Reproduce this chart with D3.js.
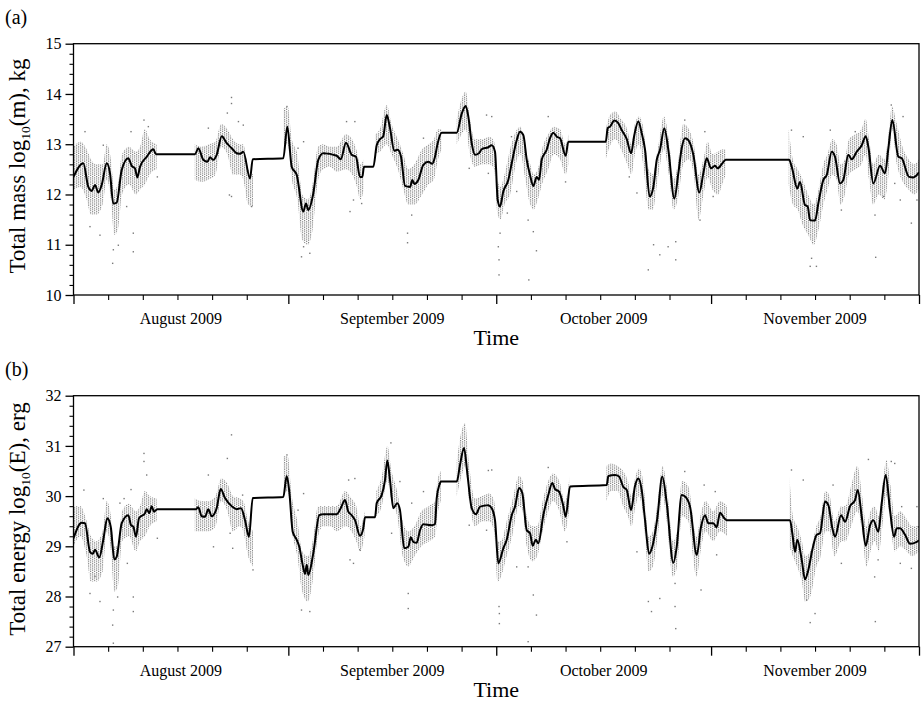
<!DOCTYPE html>
<html>
<head>
<meta charset="utf-8">
<script src="https://cdn.jsdelivr.net/npm/d3@7"></script>
<style>
  body { margin: 0; background: #fff; }
  text { font-family: "Liberation Serif", "Times New Roman", serif; fill: #000; }
</style>
</head>
<body>
<svg id="chart" width="923" height="702"></svg>
<script>
// Time range: 1 Aug 2009 – 1 Dec 2009; series are keyed by day offset from 1 Aug.
const startMs = Date.UTC(2009, 7, 1);
const endMs = Date.UTC(2009, 11, 1);
const monthLabels = ["August 2009", "September 2009", "October 2009", "November 2009"];
const massTicks = [10, 11, 12, 13, 14, 15];
const energyTicks = [27, 28, 29, 30, 31, 32];

// Running mean of log10 mass (day, value)
const massTrend = [[0.0,12.35],[1.41,12.62],[2.14,12.15],[2.63,12.07],[3.10,12.19],[3.58,12.04],[4.07,12.19],[4.79,12.62],[5.27,12.42],[5.74,11.82],[6.23,11.84],[6.96,12.49],[7.91,12.72],[8.40,12.57],[8.87,12.52],[9.21,12.34],[9.60,12.55],[10.56,12.75],[11.52,12.90],[11.90,12.80],[17.53,12.80],[18.01,12.92],[18.73,12.69],[19.31,12.65],[19.70,12.74],[20.17,12.69],[20.66,12.79],[21.39,13.16],[22.11,13.02],[22.83,12.92],[23.55,12.82],[24.03,12.81],[24.50,12.85],[25.47,12.32],[25.86,12.70],[30.27,12.72],[30.85,13.35],[31.49,12.55],[32.21,12.39],[33.16,11.66],[33.55,11.82],[33.88,11.69],[34.60,12.02],[35.32,12.69],[36.05,12.82],[37.98,12.77],[38.56,12.70],[39.32,13.03],[40.14,12.79],[40.76,12.75],[41.34,12.35],[41.67,12.35],[41.92,12.55],[43.26,12.55],[43.75,12.98],[44.23,13.10],[44.70,13.16],[45.19,13.58],[45.67,13.32],[46.29,12.87],[46.78,12.89],[47.26,12.75],[47.84,12.17],[48.56,12.15],[48.89,12.29],[49.18,12.21],[49.75,12.29],[50.48,12.59],[51.20,12.65],[51.77,12.61],[52.16,12.75],[52.55,13.02],[53.13,13.23],[55.30,13.23],[56.02,13.61],[56.59,13.76],[56.97,13.55],[57.46,13.02],[57.94,12.79],[58.51,12.82],[58.90,12.90],[59.86,12.94],[60.35,12.98],[60.82,12.85],[61.21,11.89],[61.54,11.76],[62.02,12.06],[62.74,12.29],[63.23,12.62],[63.95,13.08],[64.43,13.25],[64.91,13.18],[65.40,12.69],[65.87,12.39],[66.35,12.17],[66.84,12.35],[67.17,12.29],[67.56,12.69],[68.28,12.89],[68.76,13.12],[69.24,13.23],[69.73,13.15],[70.20,13.12],[71.02,12.77],[71.40,13.05],[76.80,13.05],[77.09,13.32],[77.42,13.35],[78.04,13.47],[78.61,13.42],[79.11,13.28],[79.83,13.10],[80.45,12.82],[80.92,13.18],[81.50,13.45],[81.99,13.22],[82.47,12.89],[83.13,11.96],[83.67,12.15],[84.16,12.69],[84.63,12.89],[85.25,13.32],[85.83,12.89],[86.70,11.92],[87.27,12.42],[87.76,12.92],[88.24,13.12],[88.72,13.08],[89.44,12.79],[90.30,12.04],[90.88,12.42],[91.37,12.72],[91.99,12.52],[92.57,12.57],[92.96,12.52],[93.62,12.62],[94.11,12.69],[103.25,12.69],[103.64,12.55],[104.44,12.12],[104.83,12.25],[105.55,11.79],[105.94,11.76],[106.28,11.49],[107.00,11.48],[107.47,11.82],[108.20,12.29],[108.69,12.39],[109.41,12.85],[109.88,12.75],[110.61,12.22],[111.08,12.29],[111.80,12.79],[112.29,12.70],[113.01,12.85],[113.74,12.98],[114.31,13.16],[114.69,12.95],[115.41,12.22],[116.38,12.57],[117.10,12.42],[117.58,12.92],[118.15,13.48],[119.02,12.75],[119.51,12.72],[120.56,12.35],[121.18,12.34],[122.0,12.44]];

// Spread of the individual mass estimates (day, low, high); null separates observing runs
const massSpread = [[0.0,12.10,12.95],[1.0,12.15,13.05],[1.9,11.9,12.9],[2.5,11.6,12.7],[3.3,11.6,12.6],[4.2,11.8,12.6],[4.8,12.3,13.0],[5.4,11.9,12.7],[5.9,11.2,12.1],[6.4,11.3,12.2],[7.0,12.0,12.8],[8.0,12.2,12.95],[9.0,12.0,12.85],[9.6,12.1,12.95],[10.3,12.2,13.3],[11.0,12.4,13.1],[12.0,12.5,13.0],
  null,
  [17.5,12.3,13.0],[18.5,12.25,12.95],[19.5,12.3,13.0],[20.5,12.4,13.05],[21.3,12.95,13.4],[22.2,12.8,13.3],[23.0,12.4,13.1],[24.0,12.4,13.0],[24.5,12.3,13.0],[25.2,11.8,12.5],[25.9,11.75,12.4],
  null,
  [30.3,13.0,13.7],[30.9,13.0,13.75],[31.5,12.3,13.1],[32.3,11.9,12.8],[33.0,11.1,12.0],[33.8,11.0,11.9],[34.5,11.3,12.2],[35.3,12.3,12.95],[36.0,12.5,13.0],[37.0,12.55,12.95],[38.0,12.45,12.95],[39.3,12.5,13.2],[40.2,12.4,13.1],[40.8,12.2,12.9],[41.4,11.9,12.6],[41.9,12.1,12.7],
  null,
  [43.5,12.8,13.2],[44.2,12.85,13.3],[45.2,13.0,13.78],[45.9,12.8,13.4],[46.8,12.5,13.1],[47.6,12.1,12.8],[48.3,11.8,12.5],[49.2,11.8,12.6],[50.3,12.0,12.9],[51.2,12.2,13.0],[52.0,12.3,13.1],[52.6,12.7,13.3],[53.1,12.9,13.3],
  null,
  [55.3,13.0,13.5],[56.0,13.2,13.9],[56.6,13.3,14.05],[57.2,12.8,13.5],[57.9,12.55,13.1],[59.0,12.6,13.1],[60.0,12.6,13.15],[60.7,12.5,13.05],[61.2,11.6,12.3],[61.6,11.5,12.15],[62.2,11.8,12.4],[63.0,12.0,12.9],[64.0,12.7,13.3],[64.5,12.8,13.35],[65.2,12.3,12.9],[65.9,11.8,12.6],[66.4,11.7,12.4],[67.0,11.9,12.5],[67.6,12.2,12.9],[68.5,12.5,13.2],[69.3,12.8,13.35],[70.2,12.7,13.3],[71.0,12.4,13.0],[71.4,12.6,13.2],
  null,
  [76.8,12.7,13.3],[77.5,13.0,13.6],[78.2,13.1,13.65],[79.0,12.9,13.5],[79.9,12.6,13.3],[80.5,12.4,13.0],[81.0,12.8,13.4],[81.6,13.0,13.55],[82.2,12.6,13.35],[83.0,11.7,12.5],[83.6,11.7,12.4],[84.3,12.3,12.9],[85.2,12.9,13.55],[85.9,12.4,13.1],[86.6,11.7,12.3],[87.2,11.9,12.6],[88.0,12.6,13.4],[88.8,12.7,13.3],[89.5,12.4,13.0],[90.2,11.5,12.4],[90.9,12.0,12.7],[91.5,12.35,13.05],[92.2,12.1,12.8],[93.0,12.0,12.85],[93.6,12.2,12.9],[94.1,12.4,12.9],
  null,
  [103.2,12.2,13.3],[103.8,11.8,12.7],[104.5,11.7,12.5],[105.2,11.4,12.3],[106.0,11.2,12.0],[106.8,11.0,11.8],[107.5,11.3,12.1],[108.2,11.8,12.6],[108.8,12.1,12.8],[109.5,12.4,13.1],[110.1,12.3,13.0],[110.7,11.8,12.6],[111.3,12.0,12.7],[111.9,12.4,13.1],[112.8,12.5,13.2],[113.7,12.6,13.3],[114.3,12.8,13.5],[114.8,12.3,13.1],[115.4,11.8,12.6],[116.2,12.0,12.8],[117.0,11.9,12.7],[117.6,12.4,13.2],[118.1,13.3,13.75],[118.8,12.6,13.4],[119.5,12.3,13.0],[120.5,12.1,12.7],[121.3,12.0,12.6],[122.0,12.1,12.7]];

// Isolated mass estimates lying outside the main spread (day, value)
const massStray = [[1.66,13.25],[2.38,11.36],[3.82,11.19],[4.3,12.98],[5.65,10.63],[5.75,10.9],[6.47,10.99],[7.67,11.76],[8.63,10.86],[8.63,11.23],[8.3,13.25],[10.17,13.48],[10.8,13.35],[12.1,12.35],[19.46,13.32],[22.8,13.93],[22.8,13.81],[22.2,13.62],[23.8,13.45],[22.5,11.99],[22.8,11.96],[24.5,13.38],[25.7,11.76],[30.8,13.75],[32.4,12.92],[33.2,13.05],[32.9,10.76],[34.1,10.83],[33.2,10.96],[39.9,11.66],[40.6,13.45],[40.4,11.89],[39.4,13.45],[41.58,11.82],[48.2,11.04],[48.2,11.23],[48.8,11.59],[50.5,13.12],[57.1,12.52],[59.6,13.58],[60.35,13.55],[59.86,12.42],[61.4,10.40],[61.4,10.70],[61.3,10.96],[61.55,11.23],[62.6,11.63],[63.95,12.06],[63.2,13.15],[65.7,10.30],[66.8,10.88],[66.35,11.26],[65.6,11.49],[68.5,13.55],[71.0,12.25],[81.3,12.03],[80.2,12.35],[82.94,10.50],[83.7,11.0],[84.6,10.8],[85.8,10.96],[86.9,10.70],[86.9,11.06],[88.2,13.48],[91.1,13.25],[90.4,11.49],[92.3,11.96],[103.6,13.28],[105.3,13.15],[106.3,10.57],[107.2,10.57],[106.5,10.73],[109.2,13.28],[110.8,11.69],[112.8,13.25],[115.65,11.59],[115.75,10.75],[116.9,11.96],[118.0,13.78],[118.5,12.22],[119.3,11.89],[120.9,11.43],[121.7,11.89],[119.7,13.55]];

// Running mean of log10 kinetic energy (day, value)
const energyTrend = [[0.0,29.16],[1.18,29.47],[1.66,29.46],[2.38,28.89],[2.77,28.85],[3.10,28.93],[3.72,28.78],[4.30,29.13],[4.88,29.56],[5.37,29.39],[5.89,28.74],[6.23,28.79],[6.96,29.46],[7.91,29.62],[8.30,29.42],[8.63,29.39],[9.02,29.19],[9.45,29.56],[10.32,29.66],[10.56,29.74],[10.94,29.66],[11.28,29.80],[11.62,29.69],[12.09,29.74],[17.68,29.74],[18.01,29.78],[18.50,29.60],[18.98,29.59],[19.45,29.74],[19.94,29.60],[20.66,29.76],[21.24,30.14],[21.86,29.96],[22.83,29.80],[23.55,29.74],[24.17,29.76],[24.75,29.52],[25.32,29.19],[25.86,29.96],[30.27,29.98],[30.76,30.40],[31.14,30.09],[31.63,29.29],[32.21,29.13],[32.58,28.99],[33.07,28.63],[33.41,28.45],[33.65,28.63],[33.88,28.43],[34.60,28.86],[35.47,29.62],[36.05,29.64],[37.98,29.64],[38.56,29.76],[39.18,29.92],[39.65,29.69],[40.14,29.62],[40.62,29.52],[41.34,29.21],[41.82,29.36],[42.06,29.58],[43.51,29.58],[43.75,29.86],[44.47,30.02],[44.95,30.32],[45.28,30.71],[45.67,30.32],[46.15,29.76],[46.72,29.86],[47.11,29.72],[47.73,28.96],[48.31,28.99],[48.66,29.18],[49.03,29.09],[49.52,29.07],[50.00,29.32],[50.48,29.44],[51.69,29.42],[52.16,29.44],[52.41,29.96],[52.79,30.22],[53.03,30.29],[55.30,30.29],[55.77,30.62],[56.35,30.96],[56.83,30.45],[57.46,29.76],[58.08,29.64],[58.66,29.79],[59.86,29.82],[60.35,29.76],[60.82,29.52],[61.30,28.66],[62.02,28.96],[62.51,29.13],[63.23,29.62],[63.71,29.79],[64.29,30.16],[64.76,30.06],[65.40,29.32],[65.87,29.26],[66.26,29.01],[66.70,29.13],[67.07,29.06],[67.79,29.62],[68.51,30.02],[69.09,30.26],[69.48,30.14],[70.06,30.09],[70.68,29.80],[71.02,29.59],[71.65,30.19],[76.94,30.22],[77.17,30.40],[78.14,30.42],[78.72,30.39],[79.34,30.18],[79.83,30.12],[80.45,29.72],[81.02,30.20],[81.50,30.35],[81.99,30.12],[82.47,29.52],[83.05,28.85],[83.52,28.99],[84.24,29.56],[84.96,30.39],[85.60,29.86],[86.55,28.67],[87.04,28.99],[87.76,30.02],[88.24,29.99],[88.96,29.79],[89.93,28.83],[90.55,29.39],[91.13,29.62],[91.60,29.46],[92.32,29.46],[92.81,29.38],[93.29,29.67],[93.91,29.56],[94.26,29.52],[103.39,29.52],[103.72,29.26],[104.11,28.89],[104.44,29.13],[105.08,28.73],[105.55,28.34],[106.03,28.53],[106.61,28.93],[107.24,29.23],[107.72,29.26],[108.44,29.89],[108.92,29.82],[109.50,29.36],[109.88,29.19],[110.75,29.62],[111.33,29.49],[112.05,29.80],[112.77,29.92],[113.16,30.12],[113.74,29.59],[114.31,29.01],[114.94,29.42],[115.41,29.52],[116.13,29.29],[116.62,29.86],[117.20,30.42],[117.82,29.72],[118.40,29.19],[118.79,29.36],[119.26,29.36],[119.99,29.23],[120.71,29.05],[121.67,29.09],[122.0,29.12]];

// Spread of the individual energy estimates (day, low, high); null separates observing runs
const energySpread = [[0.0,29.0,29.8],[1.0,29.2,29.8],[1.9,28.8,29.5],[2.5,28.3,29.2],[3.3,28.3,29.1],[4.2,28.5,29.3],[4.8,29.3,29.9],[5.4,28.9,29.6],[5.9,28.1,29.0],[6.4,28.2,29.0],[7.0,29.1,29.7],[8.0,29.2,29.85],[9.0,28.9,29.7],[9.6,29.1,29.8],[10.3,29.2,30.1],[11.0,29.4,30.0],[12.0,29.5,29.95],
  null,
  [17.5,29.3,29.95],[18.5,29.3,29.9],[19.5,29.3,29.9],[20.5,29.4,30.0],[21.3,29.9,30.35],[22.2,29.7,30.25],[23.0,29.3,30.0],[24.0,29.4,29.95],[24.5,29.3,29.9],[25.2,28.8,29.5],[25.9,28.6,29.3],
  null,
  [30.3,30.0,30.8],[30.9,30.1,30.8],[31.5,29.3,30.0],[32.3,28.8,29.5],[33.0,28.1,28.9],[33.8,27.9,28.8],[34.5,28.3,29.1],[35.3,29.2,29.8],[36.0,29.4,29.8],[37.0,29.4,29.8],[38.0,29.3,29.8],[39.2,29.4,30.1],[40.1,29.3,29.95],[40.8,29.1,29.8],[41.4,28.9,29.4],[42.0,29.2,29.7],
  null,
  [43.7,29.6,30.1],[44.5,29.8,30.4],[45.3,30.3,31.0],[45.9,29.9,30.5],[46.7,29.6,30.1],[47.5,28.8,29.5],[48.3,28.6,29.3],[49.2,28.8,29.4],[50.2,29.0,29.7],[51.3,29.1,29.8],[52.2,29.2,29.9],[52.5,29.6,30.3],[53.0,29.9,30.5],
  null,
  [55.3,30.0,30.7],[56.0,30.4,31.3],[56.5,30.6,31.45],[57.1,29.9,30.6],[57.9,29.4,29.95],[59.0,29.5,30.0],[60.0,29.5,30.05],[60.7,29.3,29.9],[61.2,28.3,29.1],[61.7,28.4,29.1],[62.5,28.8,29.5],[63.3,29.2,29.9],[64.3,29.8,30.4],[64.8,29.7,30.3],[65.4,29.0,29.6],[66.2,28.7,29.4],[66.9,28.8,29.4],[67.7,29.3,29.9],[68.5,29.7,30.3],[69.2,29.9,30.45],[70.1,29.7,30.3],[70.9,29.3,29.9],[71.6,29.8,30.4],
  null,
  [76.9,29.9,30.6],[77.6,30.1,30.65],[78.5,30.1,30.6],[79.3,29.8,30.5],[80.0,29.6,30.3],[80.5,29.4,30.0],[81.1,29.8,30.4],[81.6,30.0,30.55],[82.2,29.6,30.3],[83.0,28.5,29.2],[83.6,28.6,29.3],[84.3,29.2,29.9],[85.0,30.0,30.6],[85.6,29.5,30.2],[86.5,28.4,29.1],[87.1,28.6,29.3],[87.8,29.6,30.3],[88.7,29.5,30.2],[89.9,28.4,29.2],[90.6,29.0,29.7],[91.2,29.3,29.9],[92.3,29.1,29.7],[93.3,29.3,29.9],[94.3,29.2,29.8],
  null,
  [103.3,29.0,30.4],[103.8,28.8,29.6],[104.4,28.6,29.4],[105.1,28.3,29.1],[105.6,27.9,28.8],[106.3,28.0,28.9],[107.2,28.6,29.4],[107.8,28.8,29.6],[108.5,29.3,30.1],[109.1,29.3,30.0],[109.8,28.8,29.5],[110.8,29.1,29.8],[111.4,29.1,29.8],[112.2,29.4,30.2],[113.1,29.7,30.6],[113.8,29.3,30.0],[114.4,28.6,29.4],[115.0,28.9,29.7],[115.6,29.1,29.8],[116.2,28.9,29.6],[116.8,29.5,30.3],[117.3,30.0,30.72],[117.9,29.4,30.2],[118.5,28.9,29.6],[119.3,29.0,29.7],[120.2,28.9,29.55],[121.0,28.8,29.4],[122.0,28.9,29.4]];

// Isolated energy estimates lying outside the main spread (day, value)
const energyStray = [[1.5,30.12],[2.38,28.06],[3.82,27.90],[3.1,28.4],[4.3,29.95],[5.65,27.43],[5.75,27.07],[5.75,27.73],[6.37,27.99],[6.7,29.86],[7.3,29.95],[7.77,28.66],[8.63,27.70],[8.63,27.99],[8.3,30.13],[10.17,30.85],[10.17,30.69],[10.56,30.42],[12.1,29.16],[19.46,30.42],[20.2,28.99],[22.8,31.22],[22.2,30.75],[22.97,28.96],[22.6,29.26],[24.4,30.02],[25.9,28.53],[30.8,30.82],[32.4,29.72],[33.2,30.05],[32.9,27.73],[34.1,27.70],[39.7,30.32],[40.6,30.35],[39.9,28.73],[40.4,28.66],[41.3,28.93],[45.8,31.06],[45.9,29.26],[47.1,30.29],[48.3,27.76],[48.3,28.06],[48.8,29.86],[50.5,30.09],[57.1,29.42],[59.6,29.32],[59.86,30.51],[60.35,30.52],[61.45,27.46],[61.45,27.66],[61.4,27.8],[65.6,27.10],[66.8,27.63],[66.35,28.03],[65.6,28.59],[63.95,28.59],[68.5,30.57],[71.2,29.09],[82.95,27.90],[83.4,27.70],[84.6,27.96],[81.3,28.89],[86.9,27.36],[86.8,27.8],[86.8,28.26],[88.2,30.49],[91.0,30.22],[92.6,30.09],[90.55,28.13],[92.8,28.83],[103.6,30.52],[105.3,30.32],[106.3,27.48],[107.0,27.66],[105.8,27.93],[109.6,30.22],[110.8,28.66],[112.8,30.12],[114.7,30.73],[115.6,28.39],[115.7,27.5],[116.1,28.73],[118.0,30.69],[118.5,30.65],[119.5,29.79],[119.3,28.66],[120.9,28.56],[121.9,29.39],[121.7,29.79]];

const dayToDate = d => new Date(startMs + d * 864e5);

const svg = d3.select("#chart");
const left = 73.5, right = 919;

const x = d3.scaleUtc().domain([new Date(startMs), new Date(endMs)]).range([left, right]);

// Stipple used for the cloud of individual estimates: columns of small grey dots
const defs = svg.append("defs");
const pat = defs.append("pattern").attr("id", "stipple")
  .attr("patternUnits", "userSpaceOnUse").attr("width", 4).attr("height", 4.4);
[[0, 0], [2, 1.1], [0, 2.2], [2, 3.3]].forEach(([px, py]) => {
  pat.append("rect").attr("x", px).attr("y", py).attr("width", 1.2).attr("height", 1.2).attr("fill", "#858585");
});

const panels = [
  { id: "a", letter: "(a)", letterY: 24, top: 43.7, bottom: 295, domain: [10, 15], ticks: massTicks,
    titleParts: ["Total mass log", "10", "(m), kg"], titleY: 166, trend: massTrend, spread: massSpread, stray: massStray },
  { id: "b", letter: "(b)", letterY: 376, top: 395.7, bottom: 646.7, domain: [27, 32], ticks: energyTicks,
    titleParts: ["Total energy log", "10", "(E), erg"], titleY: 519, trend: energyTrend, spread: energySpread, stray: energyStray }
];

panels.forEach(p => {
  const y = d3.scaleLinear().domain(p.domain).range([p.bottom, p.top]);
  const g = svg.append("g");

  defs.append("clipPath").attr("id", "clip-" + p.id)
    .append("rect").attr("x", left).attr("y", p.top).attr("width", right - left).attr("height", p.bottom - p.top);

  const plot = g.append("g").attr("clip-path", `url(#clip-${p.id})`);

  // cloud of individual estimates
  const area = d3.area()
    .defined(d => d !== null)
    .x(d => x(dayToDate(d[0])))
    .y0(d => y(d[1]))
    .y1(d => y(d[2]))
    .curve(d3.curveMonotoneX);
  plot.append("path").datum(p.spread).attr("d", area).attr("fill", "url(#stipple)");

  plot.selectAll("rect.stray").data(p.stray).join("rect")
    .attr("class", "stray")
    .attr("x", d => x(dayToDate(d[0])) - 0.7)
    .attr("y", d => y(d[1]) - 0.7)
    .attr("width", 1.4).attr("height", 1.4)
    .attr("fill", "#7a7a7a");

  // running mean
  const line = d3.line().x(d => x(dayToDate(d[0]))).y(d => y(d[1])).curve(d3.curveMonotoneX);
  plot.append("path").datum(p.trend).attr("d", line)
    .attr("fill", "none").attr("stroke", "#000").attr("stroke-width", 2).attr("stroke-linejoin", "round");

  // frame
  g.append("rect").attr("x", left).attr("y", p.top).attr("width", right - left).attr("height", p.bottom - p.top)
    .attr("fill", "none").attr("stroke", "#000").attr("stroke-width", 1.3);

  // y axis: major + minor ticks
  const yAxis = d3.axisLeft(y).tickValues(p.ticks).tickSize(8).tickPadding(4).tickFormat(d3.format("d"));
  const yg = g.append("g").attr("transform", `translate(${left},0)`).call(yAxis);
  yg.select(".domain").remove();
  yg.selectAll("line").attr("stroke-width", 1.3);
  yg.selectAll("text").attr("font-size", 16).attr("font-family", "Liberation Serif");
  const yMinor = d3.range(p.domain[0] * 5, p.domain[1] * 5 + 1).map(v => v / 5).filter(v => !p.ticks.includes(v));
  const ym = g.append("g").attr("transform", `translate(${left},0)`)
    .call(d3.axisLeft(y).tickValues(yMinor).tickSize(4).tickFormat(""));
  ym.select(".domain").remove();
  ym.selectAll("line").attr("stroke-width", 1.1);

  // x axis: month starts (major) and every fifth day (minor)
  const monthStarts = d3.utcMonth.range(new Date(startMs), new Date(endMs + 1));
  const xg = g.append("g").attr("transform", `translate(0,${p.bottom})`)
    .call(d3.axisBottom(x).tickValues(monthStarts).tickSize(9).tickFormat(""));
  xg.select(".domain").remove();
  xg.selectAll("line").attr("stroke-width", 1.3);
  const fiveDays = d3.utcDay.every(5).range(new Date(startMs), new Date(endMs))
    .filter(d => d.getUTCDate() !== 1 && d.getUTCDate() !== 31);
  const xm = g.append("g").attr("transform", `translate(0,${p.bottom})`)
    .call(d3.axisBottom(x).tickValues(fiveDays).tickSize(5).tickFormat(""));
  xm.select(".domain").remove();
  xm.selectAll("line").attr("stroke-width", 1.1);

  // month names centred on each month
  g.selectAll("text.month").data(monthLabels).join("text")
    .attr("class", "month")
    .attr("x", (d, i) => {
      const a = Date.UTC(2009, 7 + i, 1), b = Date.UTC(2009, 8 + i, 1);
      return x(new Date((a + b) / 2));
    })
    .attr("y", p.bottom + 29)
    .attr("text-anchor", "middle")
    .attr("font-size", 16)
    .text(d => d);

  // axis titles
  g.append("text").attr("x", (left + right) / 2).attr("y", p.bottom + 50)
    .attr("text-anchor", "middle").attr("font-size", 22).text("Time");

  const yt = g.append("text")
    .attr("transform", `translate(25,${p.titleY}) rotate(-90)`)
    .attr("text-anchor", "middle").attr("font-size", 23);
  yt.append("tspan").text(p.titleParts[0]);
  yt.append("tspan").attr("font-size", 13.5).attr("dy", 5).text(p.titleParts[1]);
  yt.append("tspan").attr("dy", -5).text(p.titleParts[2]);

  g.append("text").attr("x", 5).attr("y", p.letterY).attr("font-size", 20).text(p.letter);
});
</script>
</body>
</html>
